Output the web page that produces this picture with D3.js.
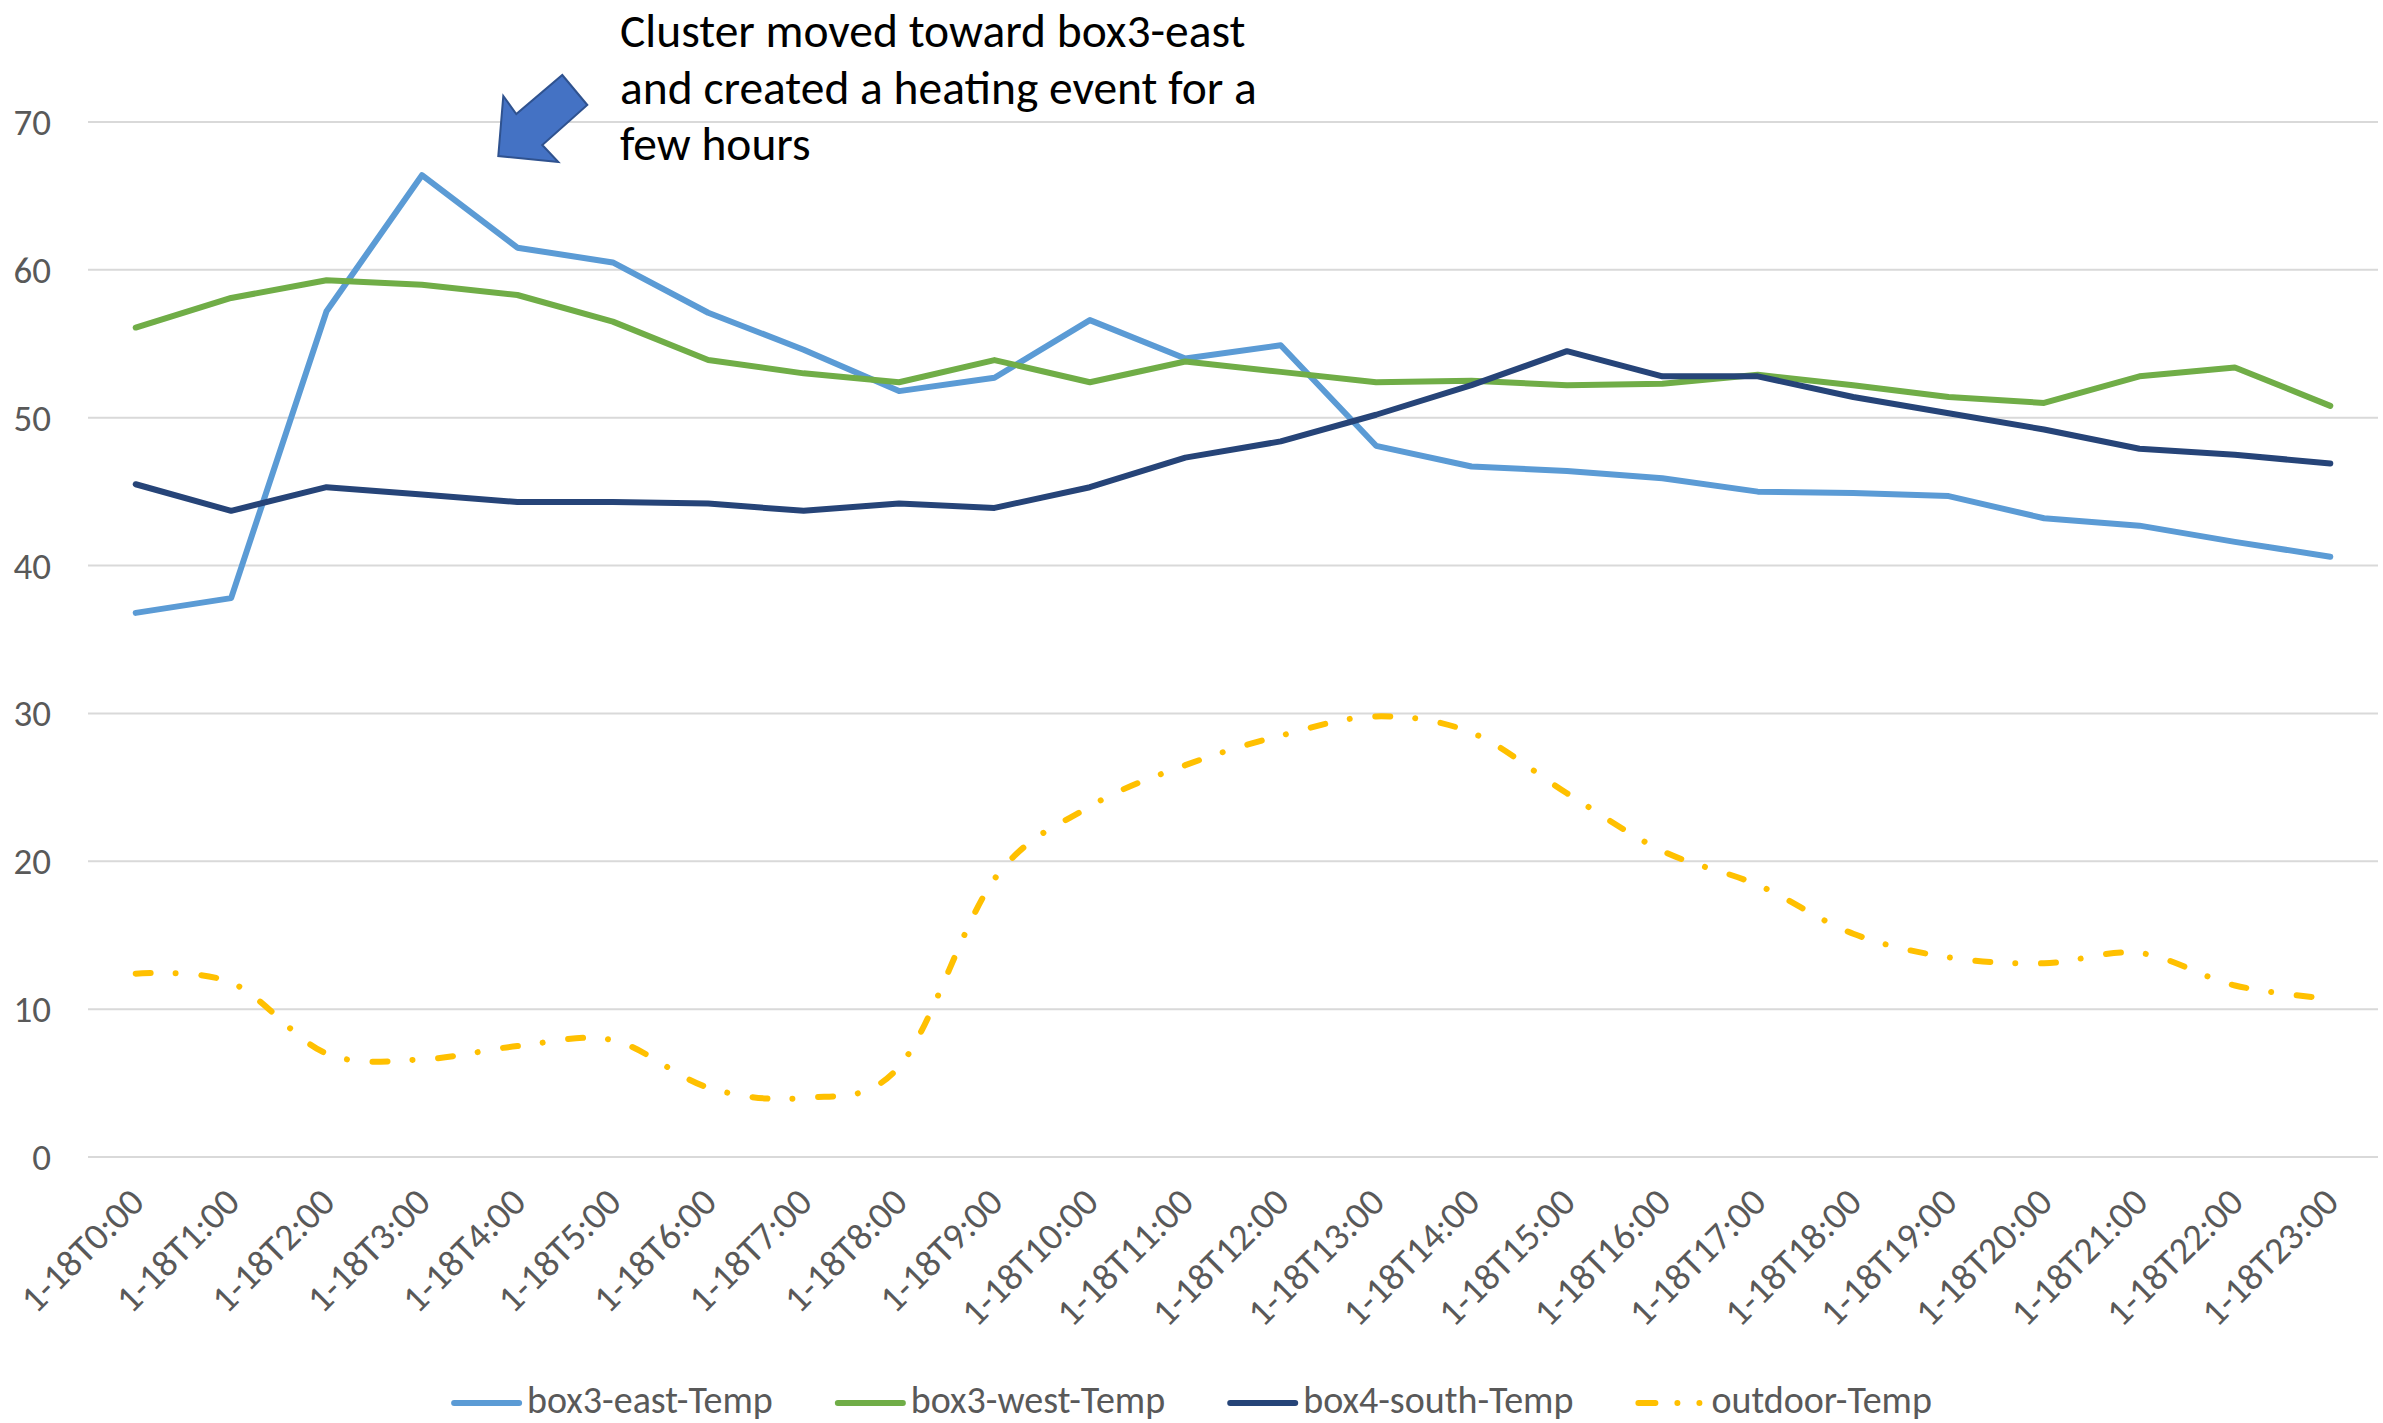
<!DOCTYPE html>
<html>
<head>
<meta charset="utf-8">
<script src="https://cdn.jsdelivr.net/npm/d3@7"></script>
<style>
body { margin:0; background:#fff; }
text { font-family: Carlito, Calibri, Lato, sans-serif; }
</style>
</head>
<body>
<svg id="chart" width="2383" height="1423"></svg>
<script>
var hours = ["1-18T0:00","1-18T1:00","1-18T2:00","1-18T3:00","1-18T4:00","1-18T5:00","1-18T6:00","1-18T7:00",
	"1-18T8:00","1-18T9:00","1-18T10:00","1-18T11:00","1-18T12:00","1-18T13:00","1-18T14:00","1-18T15:00",
	"1-18T16:00","1-18T17:00","1-18T18:00","1-18T19:00","1-18T20:00","1-18T21:00","1-18T22:00","1-18T23:00"];

var box3East = [36.8,37.8,57.2,66.4,61.5,60.5,57.1,54.6,51.8,52.7,56.6,54.0,54.9,48.1,46.7,46.4,45.9,45.0,44.9,44.7,43.2,42.7,41.6,40.6];
var box3West = [56.1,58.1,59.3,59.0,58.3,56.5,53.9,53.0,52.4,53.9,52.4,53.8,53.1,52.4,52.5,52.2,52.3,52.9,52.2,51.4,51.0,52.8,53.4,50.8];
var box4South = [45.5,43.7,45.3,44.8,44.3,44.3,44.2,43.7,44.2,43.9,45.3,47.3,48.4,50.2,52.2,54.5,52.8,52.8,51.4,50.3,49.2,47.9,47.5,46.9];
var outdoor = [12.4,11.8,7.0,6.6,7.5,7.9,4.7,4.0,6.1,18.8,23.7,26.5,28.5,29.8,28.7,24.6,20.7,18.4,15.1,13.5,13.1,13.8,11.6,10.7];

var seriesNames = ["box3-east-Temp","box3-west-Temp","box4-south-Temp","outdoor-Temp"];
var yTicks = [0,10,20,30,40,50,60,70];
var noteLines = ["Cluster moved toward box3-east","and created a heating event for a","few hours"];

var series = [
	{name: seriesNames[0], values: box3East, color: "#5B9BD5", smooth: false, dash: null},
	{name: seriesNames[1], values: box3West, color: "#70AD47", smooth: false, dash: null},
	{name: seriesNames[2], values: box4South, color: "#264478", smooth: false, dash: null},
	{name: seriesNames[3], values: outdoor, color: "#FFC000", smooth: true, dash: "15,25,0.01,25.7"}
];

var svg = d3.select('#chart');

var xScale = d3.scaleBand().domain(hours).range([88, 2378]);
var yScale = d3.scaleLinear().domain([0,70]).range([1157, 122]);
function cx(h){ return xScale(h) + xScale.bandwidth()/2; }

// grid
svg.append('g').attr('class','grid')
	.selectAll('line').data(yTicks).enter()
	.append('line')
	.attr('x1', xScale.range()[0])
	.attr('x2', xScale.range()[1])
	.attr('y1', function(d){ return yScale(d);})
	.attr('y2', function(d){ return yScale(d);})
	.attr('stroke', '#D9D9D9')
	.attr('stroke-width', 2);

// y labels
svg.append('g').attr('class','y-labels')
	.selectAll('text').data(yTicks).enter()
	.append('text')
	.attr('x', 51)
	.attr('y', function(d){ return yScale(d);})
	.attr('dy', '0.35em')
	.attr('text-anchor', 'end')
	.attr('font-size', 37)
	.attr('fill', '#595959')
	.text(function(d){ return d;});

// x labels, rotated
svg.append('g').attr('class','x-labels')
	.selectAll('text').data(hours).enter()
	.append('text')
	.attr('transform', function(h){ return 'translate('+(cx(h)+1)+',1195) rotate(-45)';})
	.attr('text-anchor', 'end')
	.attr('dy', '0.35em')
	.attr('font-size', 38)
	.attr('fill', '#595959')
	.text(function(h){ return h;});

// lines
var straight = d3.line()
	.x(function(d,i){ return cx(hours[i]);})
	.y(function(d){ return yScale(d);});
var smooth = d3.line()
	.x(function(d,i){ return cx(hours[i]);})
	.y(function(d){ return yScale(d);})
	.curve(d3.curveCardinal.tension(0));

svg.append('g').attr('class','lines')
	.selectAll('path').data(series).enter()
	.append('path')
	.attr('d', function(s){ return s.smooth ? smooth(s.values) : straight(s.values);})
	.attr('fill', 'none')
	.attr('stroke', function(s){ return s.color;})
	.attr('stroke-width', 6)
	.attr('stroke-linejoin', 'round')
	.attr('stroke-linecap', 'round')
	.attr('stroke-dasharray', function(s){ return s.dash;});

// annotation arrow, tip anchored near the 3:00 peak
var tipX = cx(hours[3]) + 0.8*xScale.bandwidth();
var tipY = yScale(67.7);
var arrowPts = [[0,0],[5,-60],[18,-42],[64,-81],[89,-51],[44,-11],[60,6]];
svg.append('polygon')
	.attr('points', arrowPts.map(function(p){ return (tipX+p[0])+','+(tipY+p[1]);}).join(' '))
	.attr('fill', '#4472C4')
	.attr('stroke', '#2F528F')
	.attr('stroke-width', 2);

svg.append('g').attr('class','note')
	.selectAll('text').data(noteLines).enter()
	.append('text')
	.attr('x', 620)
	.attr('y', function(d,i){ return 47 + i*56.5;})
	.attr('font-size', 47.5)
	.attr('fill', '#000')
	.text(function(d){ return d;});

// legend
var legend = svg.append('g').attr('class','legend');
var legendItems = legend.selectAll('g').data(series).enter().append('g');
legendItems.append('line')
	.attr('x1', 3).attr('x2', 68)
	.attr('y1', 1403).attr('y2', 1403)
	.attr('stroke', function(s){ return s.color;})
	.attr('stroke-width', 6)
	.attr('stroke-linecap', 'round')
	.attr('stroke-dasharray', function(s){ return s.dash ? "17,22,0.01,22,0.01,100" : null;});
legendItems.append('text')
	.attr('x', 76)
	.attr('y', 1413)
	.attr('font-size', 38)
	.attr('fill', '#595959')
	.text(function(s){ return s.name;});

var widths = [];
legendItems.each(function(){ widths.push(d3.select(this).select('text').node().getComputedTextLength() + 76); });
var total = d3.sum(widths) + 62*(widths.length-1);
var lx = (2383 - total)/2;
legendItems.attr('transform', function(s,i){
	var t = 'translate('+lx+',0)';
	lx += widths[i] + 62;
	return t;
});
</script>
</body>
</html>
